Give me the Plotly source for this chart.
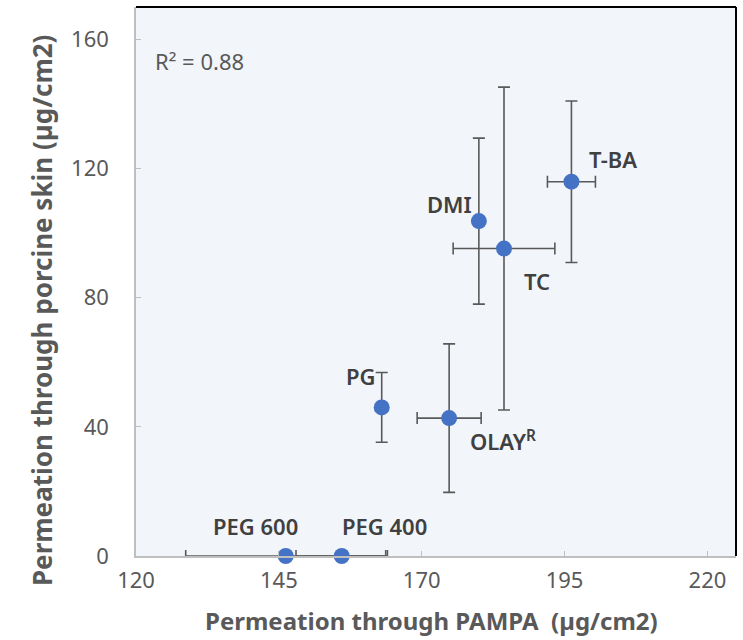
import plotly.graph_objects as go

# ---- data ----
names = ["PEG 600", "PEG 400", "PG", "OLAY<sup>R</sup>", "DMI", "TC", "T-BA"]
pampa = [146.2, 156.0, 163.0, 174.8, 180.0, 184.4, 196.2]
pampa_err = [17.5, 8.0, 0, 5.6, 0, 8.9, 4.2]
skin = [0, 0, 46.0, 42.7, 103.7, 95.2, 115.9]
skin_err = [0, 0, 10.8, 23.0, 25.7, 50.0, 25.0]
x_ticks = [120, 145, 170, 195, 220]
y_ticks = [0, 40, 80, 120, 160]
r2_text = "R² = 0.88"

# label offsets in pixels (style)
label_shift = {
    "PEG 600": (-30, 30), "PEG 400": (43, 30), "PG": (-21, 31),
    "OLAY<sup>R</sup>": (54, -22), "DMI": (-29, 17), "TC": (33, -32), "T-BA": (42, 23),
}

GRAY = "#595959"
LAB = "#404040"
FONT = "Noto Sans"

fig = go.Figure()
fig.add_trace(go.Scatter(
    x=pampa, y=skin, mode="markers",
    marker=dict(size=16, color="#4472C4"),
    error_x=dict(type="data", array=pampa_err, color=GRAY, thickness=1.6, width=6),
    error_y=dict(type="data", array=skin_err, color=GRAY, thickness=1.6, width=6),
    cliponaxis=False, showlegend=False, hoverinfo="skip",
))

for n, x, y in zip(names, pampa, skin):
    dx, dy = label_shift[n]
    fig.add_annotation(x=x, y=y, xref="x", yref="y", text=n, showarrow=False,
                       xshift=dx, yshift=dy, xanchor="center", yanchor="middle",
                       font=dict(family=FONT, size=22, color=LAB, weight=600))

fig.add_annotation(x=0.028, y=153.2, xref="paper", yref="y", text=r2_text,
                   showarrow=False, xanchor="left", yanchor="middle",
                   font=dict(family=FONT, size=22, color=GRAY))

fig.add_annotation(x=0.493, y=-0.1166, xref="paper", yref="paper",
                   xanchor="center", yanchor="middle",
                   text="Permeation through PAMPA  (µg/cm2)", showarrow=False,
                   font=dict(family=FONT, size=24, color=GRAY, weight="bold"))
fig.add_annotation(x=-0.1567, y=0.448, xref="paper", yref="paper", textangle=-90,
                   xanchor="center", yanchor="middle",
                   text="Permeation through porcine skin (µg/cm2)", showarrow=False,
                   font=dict(family=FONT, size=26, color=GRAY, weight="bold"))

fig.add_shape(type="line", xref="paper", yref="paper", x0=0, x1=1, y0=1, y1=1,
              line=dict(color="#000000", width=2))
fig.add_shape(type="line", xref="paper", yref="paper", x0=1, x1=1, y0=0, y1=1,
              line=dict(color="#000000", width=2))

axis_common = dict(showgrid=False, zeroline=False, showline=True, linecolor="#BFBFBF",
                   linewidth=1.5, ticks="inside", ticklen=5, tickcolor="#BFBFBF",
                   tickfont=dict(family=FONT, size=22, color=GRAY))
fig.update_xaxes(range=[120, 225], tickvals=x_ticks, ticklabelstandoff=4, **axis_common)
fig.update_yaxes(range=[0, 170], tickvals=y_ticks, ticklabelstandoff=21, **axis_common)

fig.update_layout(
    width=743, height=640, margin=dict(l=136, r=7, t=7, b=84),
    plot_bgcolor="#F2F5FA", paper_bgcolor="#FFFFFF",
)
fig.write_html("out.html")
